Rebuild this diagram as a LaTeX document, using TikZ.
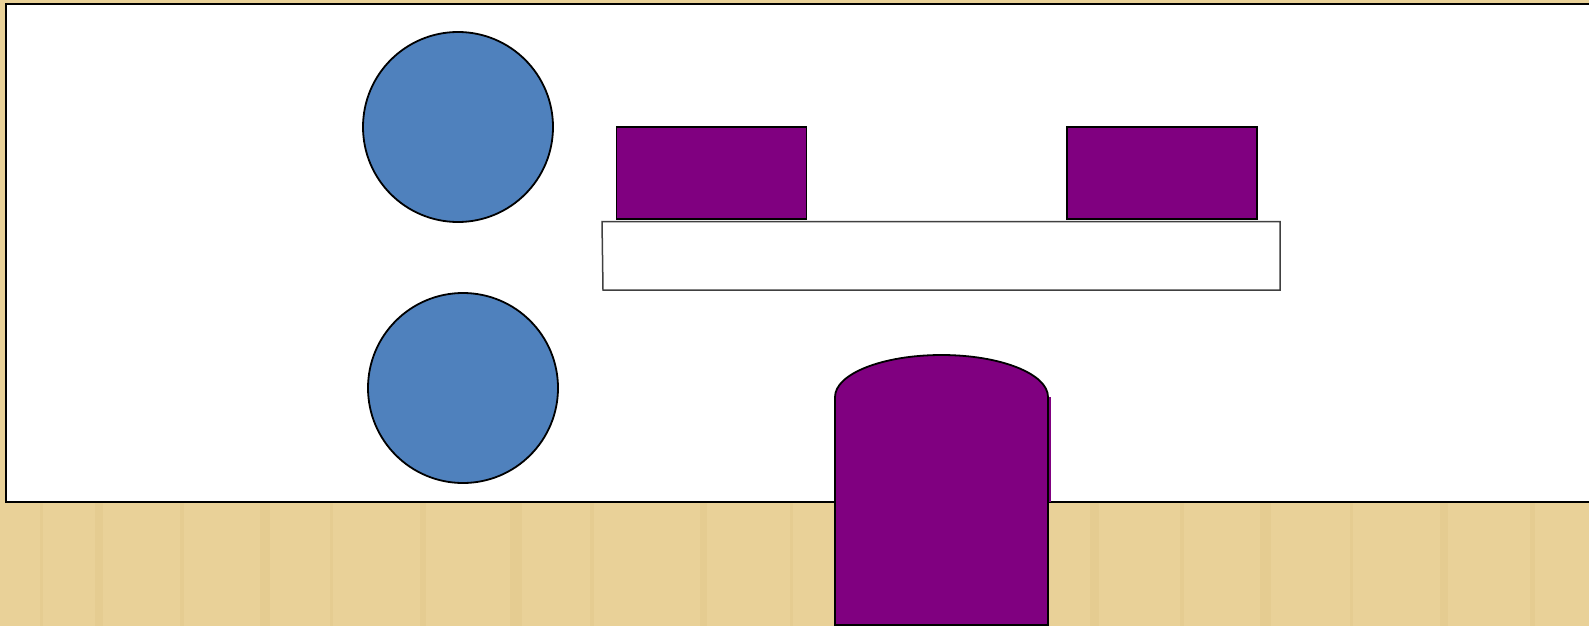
\documentclass[tikz,border=0pt]{standalone}
\usepackage{tikz}
\usetikzlibrary{positioning, calc}

\definecolor{papyrus}{HTML}{E9D198}
\definecolor{streak}{HTML}{DCC080}
\definecolor{ballblue}{HTML}{4F81BD}
\definecolor{plum}{HTML}{800080}

\begin{document}
\begin{tikzpicture}[
        x=1pt, y=-1pt,
        ball/.style={draw=black, line width=1.8pt, fill=ballblue, circle, minimum size=190pt, inner sep=0pt},
        block/.style={draw=black, line width=1.8pt, fill=plum, rectangle, minimum width=190pt, minimum height=92pt, inner sep=0pt},
        panel/.style={draw=black, line width=2.2pt, fill=white},
        shelf/.style={draw=black!75, line width=1.5pt, fill=white}
    ]
        % Background
        \fill[papyrus] (0,0) rectangle (1589,626);
        \foreach \sx/\w in {40/3,95/8,180/4,260/10,330/3,420/6,510/12,590/4,700/7,790/3,1090/9,1180/4,1260/11,1350/3,1440/8,1530/5} {
            \fill[streak, opacity=0.25] (\sx,502) rectangle ++(\w,124);
        }
        \useasboundingbox (0,0) rectangle (1589,626);

        % Panel
        \draw[panel] (6,4) -- (1600,4) -- (1600,502) -- (6,502) -- cycle;

        % Balls
        \node[ball] (ballA) at (458,127) {};
        \node[ball] (ballB) at (463,388) {};

        % Shelf with blocks
        \draw[shelf] (602,221.5) -- (1280,221.5) -- (1280,290) -- (603,290) -- cycle;
        \node[block] (blockL) at (711.5,173) {};
        \node[block] (blockR) at (1162,173) {};

        % Cylinder
        \fill[plum] (1046,397) rectangle (1051,502);
        \draw[black, line width=1.8pt, fill=plum]
            (835,625) -- (835,397) arc[start angle=180, end angle=360, x radius=106.5, y radius=42]
            -- (1048,625) -- cycle;
    \end{tikzpicture}
\end{document}
